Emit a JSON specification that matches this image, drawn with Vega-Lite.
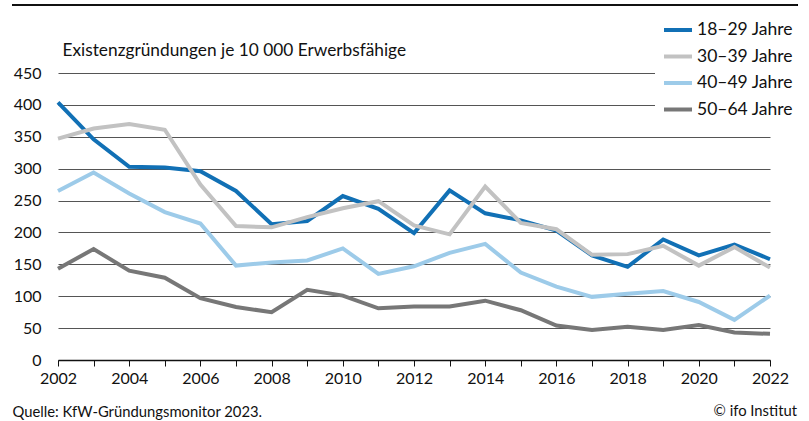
{
  "$schema": "https://vega.github.io/schema/vega-lite/v6.json",
  "width": 712,
  "height": 287,
  "autosize": {"type": "none"},
  "padding": {"left": 58, "top": 73, "right": 39, "bottom": 61},
  "background": "white",
  "config": {
    "font": "Lato",
    "view": {"stroke": null}
  },
  "title": {
    "text": "© ifo Institut",
    "orient": "bottom",
    "anchor": "end",
    "frame": "group",
    "fontSize": 14.8,
    "fontWeight": "normal",
    "color": "#111",
    "baseline": "middle",
    "offset": 0,
    "dx": 27,
    "dy": -7
  },
  "resolve": {"axis": {"x": "independent", "y": "independent"}},
  "data": {"values": [
    {"Jahr": 2002, "Gruppe": "18–29 Jahre", "Wert": 404},
    {"Jahr": 2003, "Gruppe": "18–29 Jahre", "Wert": 346},
    {"Jahr": 2004, "Gruppe": "18–29 Jahre", "Wert": 303},
    {"Jahr": 2005, "Gruppe": "18–29 Jahre", "Wert": 302},
    {"Jahr": 2006, "Gruppe": "18–29 Jahre", "Wert": 296},
    {"Jahr": 2007, "Gruppe": "18–29 Jahre", "Wert": 265},
    {"Jahr": 2008, "Gruppe": "18–29 Jahre", "Wert": 213},
    {"Jahr": 2009, "Gruppe": "18–29 Jahre", "Wert": 218},
    {"Jahr": 2010, "Gruppe": "18–29 Jahre", "Wert": 257},
    {"Jahr": 2011, "Gruppe": "18–29 Jahre", "Wert": 237},
    {"Jahr": 2012, "Gruppe": "18–29 Jahre", "Wert": 199},
    {"Jahr": 2013, "Gruppe": "18–29 Jahre", "Wert": 266},
    {"Jahr": 2014, "Gruppe": "18–29 Jahre", "Wert": 230},
    {"Jahr": 2015, "Gruppe": "18–29 Jahre", "Wert": 219},
    {"Jahr": 2016, "Gruppe": "18–29 Jahre", "Wert": 203},
    {"Jahr": 2017, "Gruppe": "18–29 Jahre", "Wert": 164},
    {"Jahr": 2018, "Gruppe": "18–29 Jahre", "Wert": 146},
    {"Jahr": 2019, "Gruppe": "18–29 Jahre", "Wert": 189},
    {"Jahr": 2020, "Gruppe": "18–29 Jahre", "Wert": 164},
    {"Jahr": 2021, "Gruppe": "18–29 Jahre", "Wert": 181},
    {"Jahr": 2022, "Gruppe": "18–29 Jahre", "Wert": 158},
    {"Jahr": 2002, "Gruppe": "30–39 Jahre", "Wert": 347},
    {"Jahr": 2003, "Gruppe": "30–39 Jahre", "Wert": 363},
    {"Jahr": 2004, "Gruppe": "30–39 Jahre", "Wert": 370},
    {"Jahr": 2005, "Gruppe": "30–39 Jahre", "Wert": 361},
    {"Jahr": 2006, "Gruppe": "30–39 Jahre", "Wert": 275},
    {"Jahr": 2007, "Gruppe": "30–39 Jahre", "Wert": 210},
    {"Jahr": 2008, "Gruppe": "30–39 Jahre", "Wert": 208},
    {"Jahr": 2009, "Gruppe": "30–39 Jahre", "Wert": 224},
    {"Jahr": 2010, "Gruppe": "30–39 Jahre", "Wert": 238},
    {"Jahr": 2011, "Gruppe": "30–39 Jahre", "Wert": 249},
    {"Jahr": 2012, "Gruppe": "30–39 Jahre", "Wert": 211},
    {"Jahr": 2013, "Gruppe": "30–39 Jahre", "Wert": 197},
    {"Jahr": 2014, "Gruppe": "30–39 Jahre", "Wert": 272},
    {"Jahr": 2015, "Gruppe": "30–39 Jahre", "Wert": 215},
    {"Jahr": 2016, "Gruppe": "30–39 Jahre", "Wert": 205},
    {"Jahr": 2017, "Gruppe": "30–39 Jahre", "Wert": 165},
    {"Jahr": 2018, "Gruppe": "30–39 Jahre", "Wert": 166},
    {"Jahr": 2019, "Gruppe": "30–39 Jahre", "Wert": 179},
    {"Jahr": 2020, "Gruppe": "30–39 Jahre", "Wert": 148},
    {"Jahr": 2021, "Gruppe": "30–39 Jahre", "Wert": 177},
    {"Jahr": 2022, "Gruppe": "30–39 Jahre", "Wert": 145},
    {"Jahr": 2002, "Gruppe": "40–49 Jahre", "Wert": 265},
    {"Jahr": 2003, "Gruppe": "40–49 Jahre", "Wert": 294},
    {"Jahr": 2004, "Gruppe": "40–49 Jahre", "Wert": 261},
    {"Jahr": 2005, "Gruppe": "40–49 Jahre", "Wert": 232},
    {"Jahr": 2006, "Gruppe": "40–49 Jahre", "Wert": 214},
    {"Jahr": 2007, "Gruppe": "40–49 Jahre", "Wert": 148},
    {"Jahr": 2008, "Gruppe": "40–49 Jahre", "Wert": 153},
    {"Jahr": 2009, "Gruppe": "40–49 Jahre", "Wert": 156},
    {"Jahr": 2010, "Gruppe": "40–49 Jahre", "Wert": 175},
    {"Jahr": 2011, "Gruppe": "40–49 Jahre", "Wert": 135},
    {"Jahr": 2012, "Gruppe": "40–49 Jahre", "Wert": 147},
    {"Jahr": 2013, "Gruppe": "40–49 Jahre", "Wert": 168},
    {"Jahr": 2014, "Gruppe": "40–49 Jahre", "Wert": 182},
    {"Jahr": 2015, "Gruppe": "40–49 Jahre", "Wert": 137},
    {"Jahr": 2016, "Gruppe": "40–49 Jahre", "Wert": 115},
    {"Jahr": 2017, "Gruppe": "40–49 Jahre", "Wert": 99},
    {"Jahr": 2018, "Gruppe": "40–49 Jahre", "Wert": 104},
    {"Jahr": 2019, "Gruppe": "40–49 Jahre", "Wert": 108},
    {"Jahr": 2020, "Gruppe": "40–49 Jahre", "Wert": 91},
    {"Jahr": 2021, "Gruppe": "40–49 Jahre", "Wert": 63},
    {"Jahr": 2022, "Gruppe": "40–49 Jahre", "Wert": 101},
    {"Jahr": 2002, "Gruppe": "50–64 Jahre", "Wert": 143},
    {"Jahr": 2003, "Gruppe": "50–64 Jahre", "Wert": 174},
    {"Jahr": 2004, "Gruppe": "50–64 Jahre", "Wert": 140},
    {"Jahr": 2005, "Gruppe": "50–64 Jahre", "Wert": 129},
    {"Jahr": 2006, "Gruppe": "50–64 Jahre", "Wert": 97},
    {"Jahr": 2007, "Gruppe": "50–64 Jahre", "Wert": 83},
    {"Jahr": 2008, "Gruppe": "50–64 Jahre", "Wert": 75},
    {"Jahr": 2009, "Gruppe": "50–64 Jahre", "Wert": 110},
    {"Jahr": 2010, "Gruppe": "50–64 Jahre", "Wert": 101},
    {"Jahr": 2011, "Gruppe": "50–64 Jahre", "Wert": 81},
    {"Jahr": 2012, "Gruppe": "50–64 Jahre", "Wert": 84},
    {"Jahr": 2013, "Gruppe": "50–64 Jahre", "Wert": 84},
    {"Jahr": 2014, "Gruppe": "50–64 Jahre", "Wert": 93},
    {"Jahr": 2015, "Gruppe": "50–64 Jahre", "Wert": 78},
    {"Jahr": 2016, "Gruppe": "50–64 Jahre", "Wert": 54},
    {"Jahr": 2017, "Gruppe": "50–64 Jahre", "Wert": 47},
    {"Jahr": 2018, "Gruppe": "50–64 Jahre", "Wert": 52},
    {"Jahr": 2019, "Gruppe": "50–64 Jahre", "Wert": 47},
    {"Jahr": 2020, "Gruppe": "50–64 Jahre", "Wert": 55},
    {"Jahr": 2021, "Gruppe": "50–64 Jahre", "Wert": 43},
    {"Jahr": 2022, "Gruppe": "50–64 Jahre", "Wert": 41}
  ]},
  "layer": [
    {
      "mark": {"type": "line", "strokeWidth": 4},
      "encoding": {
        "x": {
          "field": "Jahr",
          "type": "quantitative",
          "scale": {"domain": [2002, 2022], "nice": false, "zero": false},
          "axis": {
            "values": [2002, 2003, 2004, 2005, 2006, 2007, 2008, 2009, 2010, 2011, 2012, 2013, 2014, 2015, 2016, 2017, 2018, 2019, 2020, 2021, 2022],
            "labelExpr": "datum.value % 2 === 0 ? toString(datum.value) : ''",
            "grid": false,
            "domainColor": "#111",
            "domainWidth": 1.5,
            "tickColor": "#111",
            "tickSize": 6,
            "tickWidth": 1,
            "labelFontSize": 16,
            "labelColor": "#111",
            "labelPadding": 4,
            "labelFlush": false,
            "labelOverlap": false,
            "title": "Quelle: KfW-Gründungsmonitor 2023.",
            "titleFontSize": 14.8,
            "titleFontWeight": "normal",
            "titleColor": "#111",
            "titleAlign": "left",
            "titleAnchor": "start",
            "titleBaseline": "middle",
            "titleX": -46,
            "titleY": 52
          }
        },
        "y": {
          "field": "Wert",
          "type": "quantitative",
          "scale": {"domain": [0, 450], "nice": false},
          "axis": {
            "values": [0, 50, 100, 150, 200, 250, 300, 350, 400, 450],
            "labelOverlap": false,
            "domain": false,
            "ticks": false,
            "grid": true,
            "gridColor": "#555",
            "gridWidth": 1.2,
            "labelFontSize": 16,
            "labelColor": "#111",
            "labelPadding": 17,
            "title": "Existenzgründungen je 10 000 Erwerbsfähige",
            "titleAngle": 0,
            "titleAlign": "left",
            "titleBaseline": "middle",
            "titleFontSize": 17.3,
            "titleFontWeight": "normal",
            "titleColor": "#111",
            "titleX": 4,
            "titleY": -23
          }
        },
        "color": {
          "field": "Gruppe",
          "type": "nominal",
          "scale": {
            "domain": ["18–29 Jahre", "30–39 Jahre", "40–49 Jahre", "50–64 Jahre"],
            "range": ["#1170b5", "#c2c2c2", "#9dcbe9", "#777777"]
          },
          "legend": {
            "orient": "none",
            "legendX": 597,
            "legendY": -66,
            "title": null,
            "fillColor": "white",
            "padding": 14,
            "symbolType": "M-2,0H2",
            "symbolSize": 196,
            "symbolStrokeWidth": 4,
            "labelFontSize": 17.5,
            "labelColor": "#111",
            "labelOffset": 10,
            "rowPadding": 8.5
          }
        }
      }
    },
    {
      "mark": {"type": "rule", "color": "#111", "strokeWidth": 2},
      "encoding": {
        "x": {"datum": 2000.71, "type": "quantitative", "axis": null},
        "x2": {"datum": 2022.76},
        "y": {"datum": 556.6, "type": "quantitative", "axis": null}
      }
    }
  ]
}
